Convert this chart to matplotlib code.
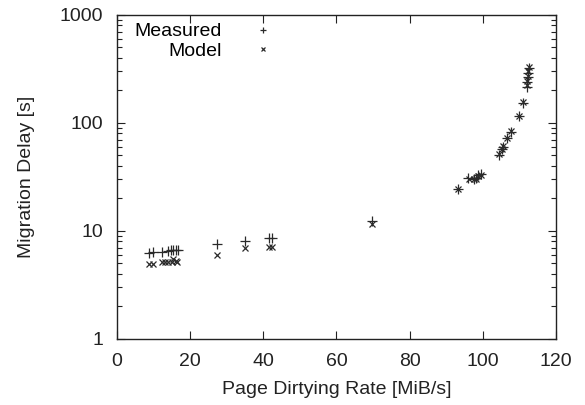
import matplotlib
matplotlib.use('Agg')
import matplotlib.pyplot as plt
from matplotlib.ticker import LogLocator, FixedLocator, NullFormatter

plt.rcParams['font.family'] = ['Liberation Sans', 'DejaVu Sans']

# values
measured_x = [8.7, 9.8, 12.3, 13.9, 14.8, 15.3, 16.1, 16.7, 27.3, 35.0, 41.5, 42.3,
              69.8, 93.2, 96.0, 97.6, 98.1, 98.7, 99.5, 104.4, 105.2, 105.5, 106.6,
              107.7, 109.9, 111.0, 112.0, 112.1, 112.3, 112.4, 112.6]
measured_y = [6.2, 6.4, 6.4, 6.5, 6.6, 6.6, 6.7, 6.6, 7.6, 8.1, 8.6, 8.7,
              12.4, 24.5, 31, 30, 31, 33, 34, 50, 57, 60, 72,
              82, 117, 152, 215, 240, 265, 290, 320]
model_x = [8.7, 9.8, 12.3, 13.2, 14.0, 15.0, 15.3, 16.1, 16.4, 27.3, 35.0, 41.5, 42.3,
           69.8, 93.2, 96.3, 97.6, 98.1, 98.7, 99.5, 104.4, 105.2, 105.5, 106.6,
           107.7, 109.9, 111.0, 112.0, 112.1, 112.3, 112.4, 112.6]
model_y = [4.9, 4.9, 5.2, 5.2, 5.2, 5.2, 5.5, 5.3, 5.2, 6.0, 7.0, 7.1, 7.1,
           11.6, 24.5, 30.5, 30, 30, 32, 33, 52, 58, 61, 73,
           84, 116, 155, 225, 245, 270, 300, 330]

x_ticks = [0, 20, 40, 60, 80, 100, 120]
y_ticks = [1, 10, 100, 1000]
y_labels = ['1', '10', '100', '1000']

fig = plt.figure(figsize=(5.85, 4.05), dpi=100)
ax = fig.add_axes([0.2, 0.163, 0.7504, 0.8])

ax.plot(measured_x, measured_y, ls='none', marker='+', ms=6.5, mew=0.9,
        color='#2a2a2a', label='Measured')
ax.plot(model_x, model_y, ls='none', marker='x', ms=5, mew=0.9,
        color='#2a2a2a', label='Model')

ax.set_yscale('log')
ax.set_xlim(0, 120)
ax.set_ylim(1, 1000)
ax.xaxis.set_major_locator(FixedLocator(x_ticks))
ax.set_yticks(y_ticks)
ax.set_yticklabels(y_labels)
ax.yaxis.set_minor_locator(LogLocator(base=10, subs=range(2, 10)))
ax.yaxis.set_minor_formatter(NullFormatter())

ax.tick_params(which='both', direction='in', top=True, right=True,
               labelsize=14, color='#222222', labelcolor='#222222')
ax.tick_params(which='major', length=6, width=0.8, pad=10)
ax.tick_params(which='minor', length=3.5, width=0.8)
for s in ax.spines.values():
    s.set_linewidth(1.0)
    s.set_color('#222222')

ax.set_xlabel('Page Dirtying Rate [MiB/s]', fontsize=14, color='#222222', labelpad=8)
ax.set_ylabel('Migration Delay [s]', fontsize=14, color='#222222', labelpad=18)

ax.legend(loc='upper left', markerfirst=False, frameon=False, fontsize=14,
          handlelength=1.0, handletextpad=1.6, labelspacing=0.1, markerscale=0.7,
          borderaxespad=0.0, bbox_to_anchor=(0.022, 1.0))

fig.savefig('out.png', dpi=100)
